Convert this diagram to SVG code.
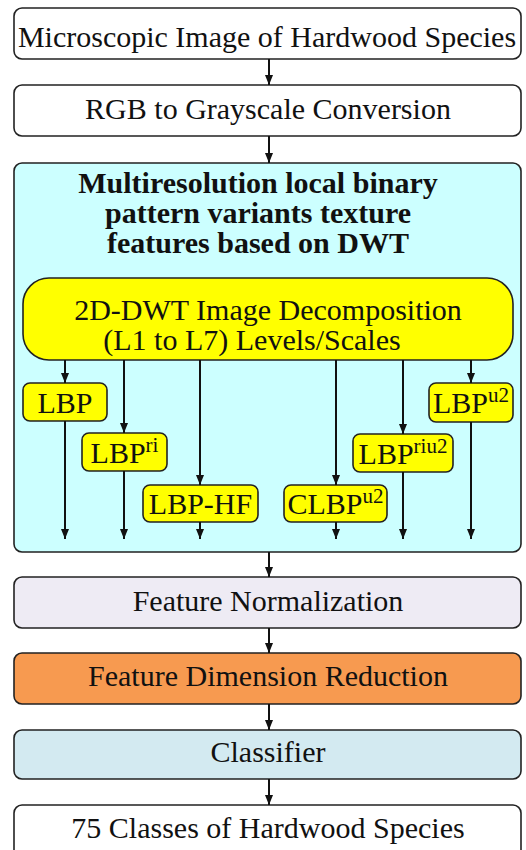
<svg xmlns="http://www.w3.org/2000/svg" width="526" height="850" viewBox="0 0 526 850">
  <defs>
    <marker id="arrow" viewBox="0 0 10 8" refX="10" refY="4" markerWidth="10" markerHeight="8" markerUnits="userSpaceOnUse" orient="auto">
      <path d="M0,0 L10,4 L0,8 z" fill="#111"/>
    </marker>
    <style>
      .box { stroke: #222; stroke-width: 1.6; }
      .lbl { font-family: "Liberation Serif", "Times New Roman", serif; font-size: 30px; fill: #111; text-anchor: middle; }
      .title { font-family: "Liberation Serif", "Times New Roman", serif; font-size: 30px; font-weight: bold; fill: #111; text-anchor: middle; }
      .sup { font-size: 21px; }
      .conn line { stroke: #111; stroke-width: 2; marker-end: url(#arrow); }
    </style>
  </defs>

  <rect width="526" height="850" fill="#fff"/>

  <!-- pipeline stages -->
  <g id="input">
    <rect class="box" x="14" y="8" width="507" height="51" rx="8" fill="#fff"/>
    <text class="lbl" x="267" y="47">Microscopic Image of Hardwood Species</text>
  </g>

  <g id="grayscale">
    <rect class="box" x="14" y="85" width="507" height="51" rx="8" fill="#fff"/>
    <text class="lbl" x="268" y="119">RGB to Grayscale Conversion</text>
  </g>

  <g id="features">
    <rect class="box" x="14" y="163" width="507" height="389" rx="8" fill="#ccffff"/>
    <text class="title" x="258" y="193">Multiresolution local binary</text>
    <text class="title" x="258" y="223">pattern variants texture</text>
    <text class="title" x="258" y="253">features based on DWT</text>
  </g>

  <g id="dwt">
    <rect class="box" x="23" y="278" width="490" height="82" rx="26" fill="#ffff00"/>
    <text class="lbl" x="268" y="320">2D-DWT Image Decomposition</text>
    <text class="lbl" x="252" y="350">(L1 to L7) Levels/Scales</text>
  </g>

  <g id="lbp">
    <rect class="box" x="23" y="383" width="84" height="38" rx="7" fill="#ffff00"/>
    <text class="lbl" x="65" y="413">LBP</text>
  </g>

  <g id="lbp-ri">
    <rect class="box" x="82" y="433" width="85" height="38" rx="7" fill="#ffff00"/>
    <text class="lbl" x="124.5" y="463">LBP<tspan class="sup" dy="-11">ri</tspan></text>
  </g>

  <g id="lbp-hf">
    <rect class="box" x="143" y="485" width="115" height="37" rx="7" fill="#ffff00"/>
    <text class="lbl" x="200.5" y="514">LBP-HF</text>
  </g>

  <g id="clbp-u2">
    <rect class="box" x="284" y="485" width="103" height="37" rx="7" fill="#ffff00"/>
    <text class="lbl" x="335.5" y="514">CLBP<tspan class="sup" dy="-11">u2</tspan></text>
  </g>

  <g id="lbp-riu2">
    <rect class="box" x="353" y="434" width="100" height="38" rx="7" fill="#ffff00"/>
    <text class="lbl" x="403" y="464">LBP<tspan class="sup" dy="-11">riu2</tspan></text>
  </g>

  <g id="lbp-u2">
    <rect class="box" x="429" y="383" width="84" height="39" rx="7" fill="#ffff00"/>
    <text class="lbl" x="471" y="413">LBP<tspan class="sup" dy="-11">u2</tspan></text>
  </g>

  <g id="normalization">
    <rect class="box" x="14" y="577" width="507" height="51" rx="8" fill="#eeebf4"/>
    <text class="lbl" x="268" y="611" fill="#222">Feature Normalization</text>
  </g>

  <g id="reduction">
    <rect class="box" x="14" y="653" width="507" height="51" rx="8" fill="#f79a50"/>
    <text class="lbl" x="268" y="686">Feature Dimension Reduction</text>
  </g>

  <g id="classifier">
    <rect class="box" x="14" y="730" width="507" height="49" rx="8" fill="#d3eaf1"/>
    <text class="lbl" x="268" y="762">Classifier</text>
  </g>

  <g id="output">
    <rect class="box" x="14" y="805" width="507" height="60" rx="8" fill="#fff"/>
    <text class="lbl" x="268" y="838">75 Classes of Hardwood Species</text>
  </g>

  <!-- connectors -->
  <g class="conn" id="connectors">
    <line x1="269" y1="59" x2="269" y2="85"/>
    <line x1="269" y1="136" x2="269" y2="163"/>

    <line x1="65" y1="360" x2="65" y2="383"/>
    <line x1="124" y1="360" x2="124" y2="433"/>
    <line x1="200" y1="360" x2="200" y2="485"/>
    <line x1="336" y1="360" x2="336" y2="485"/>
    <line x1="403" y1="360" x2="403" y2="434"/>
    <line x1="471" y1="360" x2="471" y2="383"/>

    <line x1="65" y1="421" x2="65" y2="539"/>
    <line x1="124" y1="471" x2="124" y2="539"/>
    <line x1="200" y1="522" x2="200" y2="539"/>
    <line x1="336" y1="522" x2="336" y2="539"/>
    <line x1="403" y1="472" x2="403" y2="539"/>
    <line x1="471" y1="422" x2="471" y2="539"/>

    <line x1="269" y1="552" x2="269" y2="577"/>
    <line x1="269" y1="628" x2="269" y2="653"/>
    <line x1="269" y1="704" x2="269" y2="730"/>
    <line x1="269" y1="779" x2="269" y2="805"/>
  </g>
</svg>
